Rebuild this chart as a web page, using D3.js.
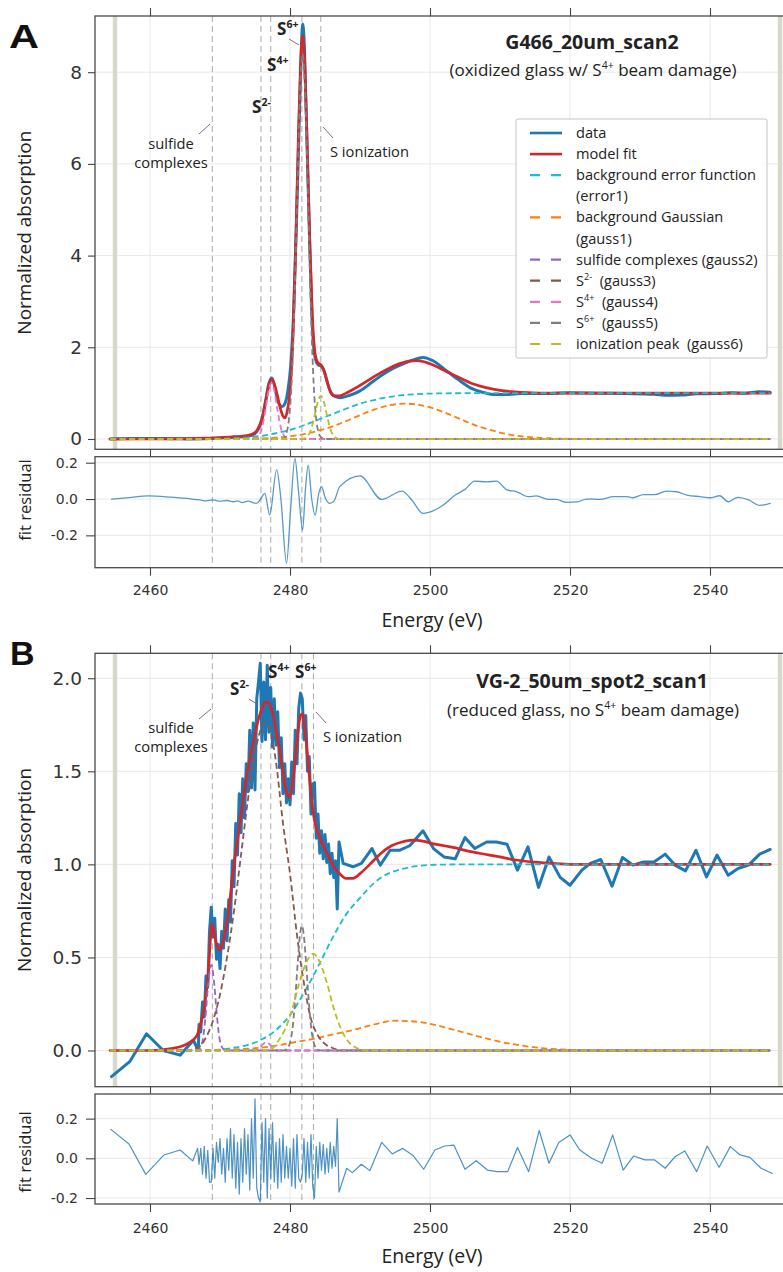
<!DOCTYPE html>
<html><head><meta charset="utf-8">
<script src="https://cdn.jsdelivr.net/npm/d3@7"></script>
<style>body{margin:0;background:#fff}svg{display:block}</style>
</head><body>
<svg id="c" width="783" height="1272"></svg>
<script>
// ---------------- DATA ----------------
const xTicks = [2460, 2480, 2500, 2520, 2540];
const xTickLabels = ["2460", "2480", "2500", "2520", "2540"];
const aMainTicks = [0, 2, 4, 6, 8];
const aMainTickLabels = ["0", "2", "4", "6", "8"];
const bMainTicks = [0, 0.5, 1, 1.5, 2];
const bMainTickLabels = ["0.0", "0.5", "1.0", "1.5", "2.0"];
const resTicks = [-0.2, 0, 0.2];
const resTickLabels = ["-0.2", "0.0", "0.2"];
const bandEnergies = [2455, 2550];
const aMarkers = [2468.9, 2475.85, 2477.25, 2481.7, 2484.4];
const bMarkers = [2468.9, 2475.85, 2477.25, 2481.7, 2483.35];

// Panel A (G466_20um_scan2)
const aData = [[2454.3,0],[2458,0.01],[2462,0.01],[2466,0],[2470,0.02],[2472,0.04],[2474,0.06],[2475,0.12],[2475.5,0.22],[2476,0.42],[2476.5,0.82],[2477,1.22],[2477.4,1.33],[2477.8,1.15],[2478.2,0.86],[2478.6,0.73],[2478.9,0.71],[2479.3,0.78],[2479.7,1.05],[2480.1,1.6],[2480.5,2.7],[2480.9,4.6],[2481.3,6.8],[2481.6,8.4],[2481.8,9.05],[2482,8.75],[2482.3,7.2],[2482.7,4.9],[2483.1,2.8],[2483.5,1.85],[2484,1.62],[2484.5,1.58],[2485,1.42],[2485.5,1.15],[2486,0.98],[2486.6,0.92],[2487.2,0.9],[2488,0.93],[2489,0.98],[2490,1.05],[2492,1.27],[2494,1.48],[2496,1.63],[2497.5,1.72],[2499,1.78],[2500.5,1.7],[2502,1.53],[2504,1.3],[2506,1.1],[2507.5,1.02],[2509,0.97],[2511,0.97],[2513,0.99],[2516,0.99],[2520,1.01],[2524,1.0],[2528,0.99],[2532,0.975],[2534,0.955],[2536,0.96],[2538,0.985],[2541,0.99],[2543,1.01],[2545,1.0],[2547,1.03],[2548.6,1.02]];
const aFit = [[2454.3,0],[2460,0],[2465,0.01],[2468,0.02],[2470,0.03],[2472,0.05],[2473,0.06],[2474,0.08],[2475,0.14],[2475.5,0.25],[2476,0.45],[2476.5,0.8],[2477,1.18],[2477.4,1.3],[2477.8,1.18],[2478.2,0.95],[2478.6,0.68],[2479,0.5],[2479.3,0.46],[2479.6,0.6],[2480,1.05],[2480.4,2.1],[2480.8,4.15],[2481.2,6.65],[2481.5,8.15],[2481.8,8.8],[2482.1,8.2],[2482.4,6.7],[2482.8,4.45],[2483.2,2.66],[2483.6,1.85],[2484,1.66],[2484.4,1.62],[2484.8,1.52],[2485.3,1.25],[2485.8,1.02],[2486.4,0.94],[2487,0.94],[2488,1.0],[2489,1.08],[2490,1.17],[2492,1.36],[2494,1.53],[2496,1.66],[2497,1.7],[2498,1.71],[2499,1.69],[2500,1.64],[2502,1.5],[2504,1.35],[2506,1.21],[2508,1.12],[2510,1.06],[2512,1.03],[2514,1.01],[2516,1.0],[2520,1.0],[2530,1.0],[2540,1.0],[2548.6,1.0]];
const aErf = [[2454.3,0],[2465,0.001],[2470,0.008],[2472,0.018],[2474,0.037],[2476,0.07],[2478,0.125],[2480,0.2],[2482,0.3],[2484,0.42],[2486,0.54],[2488,0.66],[2490,0.77],[2492,0.85],[2494,0.915],[2496,0.955],[2498,0.978],[2500,0.99],[2504,0.998],[2510,1.0],[2548.6,1.0]];
const aGauss1 = [[2454.3,0],[2470,0],[2475,0.01],[2478,0.03],[2480,0.06],[2482,0.107],[2484,0.18],[2486,0.27],[2488,0.39],[2490,0.52],[2492,0.64],[2494,0.73],[2496.5,0.77],[2499,0.73],[2501,0.64],[2503,0.52],[2505,0.39],[2507,0.27],[2509,0.18],[2511,0.107],[2513,0.06],[2515,0.03],[2518,0.01],[2522,0],[2548.6,0]];
const aGauss2 = [[2454.3,0],[2548.6,0]];
const aGauss3 = [[2454.3,0],[2548.6,0]];
const aGauss4 = [[2454.3,0],[2474.5,0],[2475,0.01],[2475.5,0.06],[2476,0.24],[2476.5,0.64],[2477,1.09],[2477.35,1.22],[2477.7,1.09],[2478.2,0.64],[2478.7,0.24],[2479.2,0.06],[2479.7,0.01],[2480.5,0],[2548.6,0]];
const aGauss5 = [[2454.3,0],[2479,0],[2479.4,0.09],[2479.8,0.37],[2480.2,1.14],[2480.6,2.73],[2481,5.1],[2481.4,7.4],[2481.8,8.4],[2482.2,7.4],[2482.6,5.1],[2483,2.73],[2483.4,1.14],[2483.8,0.37],[2484.2,0.09],[2484.6,0.02],[2485,0],[2548.6,0]];
const aGauss6 = [[2454.3,0],[2481.5,0],[2482,0.01],[2482.8,0.127],[2483.2,0.305],[2483.6,0.57],[2484,0.83],[2484.4,0.94],[2484.8,0.83],[2485.2,0.57],[2485.6,0.305],[2486,0.127],[2486.8,0.01],[2487.5,0],[2548.6,0]];
const aResid = [[2454.5,0],[2457,0.008],[2459.8,0.017],[2463,0.01],[2466,0],[2467.1,-0.005],[2468,-0.01],[2469,-0.005],[2470,-0.012],[2471,-0.008],[2471.9,-0.015],[2472.5,-0.01],[2473.2,-0.02],[2474,-0.012],[2475.2,-0.024],[2475.8,0],[2476.4,0.031],[2477.1,-0.088],[2478.1,0.16],[2478.7,0],[2479.5,-0.354],[2480.1,-0.05],[2480.7,0.224],[2481.2,0.05],[2481.8,-0.171],[2482.2,0.05],[2482.6,0.187],[2483.1,0],[2483.6,-0.088],[2484.1,0.03],[2484.5,0.068],[2485.1,0],[2485.7,-0.024],[2486.3,-0.01],[2487.1,0.068],[2490,0.127],[2493.1,-0.002],[2496,0.044],[2497.4,-0.005],[2499,-0.079],[2500.5,-0.064],[2501.9,-0.033],[2503.6,0.022],[2505,0.053],[2506.4,0.099],[2508.1,0.094],[2509.5,0.099],[2511,0.05],[2512.4,0.04],[2514,0.013],[2515.2,0.017],[2516.9,-0.002],[2518,-0.002],[2519.5,-0.018],[2521,-0.016],[2522.4,0],[2524.3,-0.002],[2526.2,0.013],[2528.1,0.013],[2529,0.007],[2530.5,0.024],[2532.1,0.024],[2533.8,0.044],[2535.2,0.04],[2536.7,0.022],[2538.6,0.013],[2540,0.007],[2541.4,0.018],[2542.6,-0.015],[2544,0.009],[2545.5,-0.005],[2547.1,-0.035],[2548.6,-0.024]];

// Panel B (VG-2_50um_spot2_scan1)
const bData = [[2454.5,-0.14],[2457.1,-0.06],[2459.5,0.09],[2461.9,0],[2464.3,-0.025],[2466.2,0.055],[2466.9,0],
[2467,0.14],[2467.25,0.1],[2467.5,0.26],[2467.75,0.18],[2468,0.4],[2468.25,0.34],[2468.5,0.64],[2468.75,0.77],[2469,0.61],[2469.25,0.71],[2469.5,0.49],[2469.75,0.57],[2470,0.44],[2470.25,0.64],[2470.5,0.55],[2470.75,0.76],[2471,0.59],[2471.25,0.81],[2471.5,0.69],[2471.75,1.02],[2472,0.88],[2472.25,1.22],[2472.5,1.05],[2472.75,1.38],[2473,1.17],[2473.25,1.46],[2473.5,1.25],[2473.75,1.54],[2474,1.39],[2474.25,1.72],[2474.5,1.41],[2474.75,1.76],[2475,1.4],[2475.25,1.89],[2475.5,1.98],[2475.75,2.08],[2476,1.66],[2476.25,1.98],[2476.5,1.67],[2476.75,2.07],[2477,1.71],[2477.25,1.95],[2477.5,1.63],[2477.75,1.89],[2478,1.64],[2478.25,1.82],[2478.5,1.52],[2478.75,1.68],[2479,1.38],[2479.25,1.54],[2479.5,1.33],[2479.75,1.46],[2480,1.32],[2480.25,1.55],[2480.5,1.38],[2480.75,1.72],[2481,1.54],[2481.25,1.84],[2481.5,1.92],[2481.75,1.89],[2482,1.67],[2482.25,1.8],[2482.5,1.5],[2482.75,1.58],[2483,1.27],[2483.25,1.43],[2483.5,1.44],[2483.75,1.14],[2484,1.27],[2484.25,1.06],[2484.5,1.18],[2484.75,1.03],[2485,1.16],[2485.25,1.01],[2485.5,1.11],[2485.75,0.95],[2486,1.06],[2486.25,0.93],[2486.5,1.02],[2486.75,0.76],[2487,1.12],
[2487.6,1.005],[2489,0.987],[2490.2,1.005],[2491.7,1.085],[2492.9,0.996],[2494.3,1.076],[2495.7,1.076],[2497.1,1.1],[2499,1.18],[2500.5,1.085],[2502,1.04],[2503.6,1.03],[2505,1.144],[2506.4,1.085],[2508.1,1.12],[2509.5,1.12],[2511,1.108],[2512.5,0.969],[2514,1.094],[2515.5,0.876],[2517,1.04],[2518.6,0.93],[2520,0.888],[2521.7,0.969],[2522.9,1.005],[2524.4,1.026],[2526,0.883],[2527.5,1.037],[2529,0.996],[2530.5,1.013],[2532,1.013],[2533.6,1.055],[2535,0.996],[2536.5,0.965],[2538,1.076],[2539.5,0.933],[2541,1.05],[2542.6,0.942],[2544,0.978],[2545.5,0.996],[2547.1,1.055],[2548.6,1.08]];
const bFit = [[2454.3,0],[2460,0],[2463,0.01],[2464.3,0.02],[2465.5,0.04],[2466.7,0.08],[2467.2,0.14],[2467.6,0.2],[2468,0.3],[2468.3,0.4],[2468.6,0.58],[2468.85,0.68],[2469.2,0.62],[2469.6,0.56],[2470,0.54],[2470.4,0.58],[2470.8,0.65],[2471.2,0.74],[2471.6,0.87],[2472,1.0],[2472.5,1.13],[2473,1.27],[2473.5,1.4],[2474,1.51],[2474.5,1.61],[2475,1.7],[2475.5,1.78],[2476,1.84],[2476.4,1.87],[2476.8,1.87],[2477.2,1.85],[2477.6,1.8],[2478,1.72],[2478.5,1.62],[2479,1.5],[2479.5,1.39],[2479.9,1.36],[2480.3,1.42],[2480.7,1.55],[2481.1,1.7],[2481.5,1.8],[2481.8,1.81],[2482.1,1.74],[2482.5,1.58],[2482.9,1.42],[2483.3,1.28],[2483.8,1.19],[2484.3,1.14],[2485,1.08],[2485.7,1.03],[2486.4,0.98],[2487.1,0.95],[2488,0.925],[2489,0.925],[2490,0.95],[2491.4,1.0],[2493,1.06],[2494.5,1.1],[2496,1.12],[2497.5,1.13],[2499,1.125],[2500.5,1.11],[2502,1.1],[2503.5,1.09],[2505,1.075],[2507,1.06],[2510,1.04],[2512,1.025],[2515,1.012],[2518,1.004],[2520,1.0],[2548.6,1.0]];
const bErf = [[2454.3,0],[2465,0],[2470,0.005],[2472,0.015],[2474,0.03],[2476,0.06],[2478,0.11],[2480,0.19],[2482,0.31],[2484,0.45],[2486,0.6],[2488,0.73],[2490,0.82],[2492,0.9],[2494,0.95],[2496,0.975],[2498,0.99],[2500,0.997],[2505,1.0],[2548.6,1.0]];
const bGauss1 = [[2454.3,0],[2465,0],[2470,0.003],[2474,0.01],[2477,0.02],[2480,0.04],[2483,0.06],[2486,0.085],[2489,0.11],[2492,0.14],[2495,0.16],[2498,0.155],[2501,0.135],[2504,0.105],[2507,0.075],[2510,0.047],[2513,0.027],[2516,0.013],[2520,0.004],[2525,0],[2548.6,0]];
const bGauss2 = [[2454.3,0],[2466.5,0],[2467,0.007],[2467.5,0.05],[2467.9,0.17],[2468.3,0.35],[2468.75,0.46],[2469.2,0.35],[2469.6,0.17],[2470,0.05],[2470.5,0.007],[2471,0],[2548.6,0]];
const bGauss3 = [[2454.3,0],[2465,0],[2467,0.02],[2468,0.07],[2469,0.16],[2470,0.3],[2471,0.5],[2472,0.75],[2473,1.05],[2474,1.35],[2475,1.6],[2476,1.74],[2476.4,1.76],[2477,1.74],[2478,1.55],[2479,1.22],[2480,0.95],[2481,0.62],[2481.5,0.48],[2482,0.36],[2483,0.17],[2484,0.08],[2485,0.035],[2486,0.015],[2487.5,0],[2548.6,0]];
const bGauss4 = [[2454.3,0],[2475,0],[2475.8,0.02],[2476.2,0.036],[2476.6,0.045],[2477,0.036],[2477.4,0.02],[2478.2,0],[2548.6,0]];
const bGauss5 = [[2454.3,0],[2479,0],[2479.5,0.006],[2479.9,0.03],[2480.3,0.1],[2480.7,0.255],[2481.1,0.47],[2481.4,0.61],[2481.7,0.67],[2482,0.61],[2482.3,0.47],[2482.7,0.255],[2483.1,0.1],[2483.5,0.03],[2483.9,0.006],[2484.5,0],[2548.6,0]];
const bGauss6 = [[2454.3,0],[2477,0],[2478.3,0.05],[2479.3,0.115],[2480.3,0.22],[2481.3,0.36],[2482.3,0.47],[2483.3,0.52],[2484.3,0.47],[2485.3,0.36],[2486.3,0.22],[2487.3,0.115],[2488.3,0.05],[2489.3,0.017],[2490.3,0.005],[2491,0],[2548.6,0]];
const bResid = [[2454.4,0.146],[2457,0.072],[2459.4,-0.081],[2462,0.017],[2464.3,0.042],[2466.1,-0.013],[2466.8,0.05],
[2467,-0.03],[2467.25,0.05],[2467.5,-0.08],[2467.75,0.06],[2468,-0.1],[2468.25,0.04],[2468.5,-0.12],[2468.75,-0.12],[2469,0.05],[2469.25,-0.1],[2469.5,0.08],[2469.75,-0.02],[2470,0.1],[2470.25,-0.08],[2470.5,0.05],[2470.75,-0.12],[2471,0.1],[2471.25,-0.06],[2471.5,0.15],[2471.75,-0.1],[2472,0.12],[2472.25,-0.15],[2472.5,0.08],[2472.75,-0.18],[2473,0.1],[2473.25,-0.12],[2473.5,0.15],[2473.75,-0.08],[2474,0.12],[2474.25,-0.16],[2474.5,0.2],[2474.75,-0.1],[2475,0.3],[2475.25,-0.15],[2475.5,-0.2],[2475.75,-0.22],[2476,0.18],[2476.25,-0.12],[2476.5,0.2],[2476.75,-0.2],[2477,0.15],[2477.25,-0.1],[2477.5,0.18],[2477.75,-0.12],[2478,0.08],[2478.25,-0.15],[2478.5,0.1],[2478.75,-0.12],[2479,0.12],[2479.25,-0.1],[2479.5,0.06],[2479.75,-0.1],[2480,0.05],[2480.25,-0.14],[2480.5,0.1],[2480.75,-0.15],[2481,0.12],[2481.25,-0.1],[2481.5,-0.12],[2481.75,-0.08],[2482,0.1],[2482.25,-0.12],[2482.5,0.08],[2482.75,-0.1],[2483,0.12],[2483.25,-0.14],[2483.5,-0.2],[2483.75,0.06],[2484,-0.1],[2484.25,0.08],[2484.5,-0.06],[2484.75,0.07],[2485,-0.08],[2485.25,0.05],[2485.5,-0.07],[2485.75,0.08],[2486,-0.05],[2486.25,0.06],[2486.5,-0.04],[2486.75,0.2],[2487,-0.17],
[2488.1,-0.05],[2488.9,-0.072],[2490.2,-0.03],[2491.4,-0.062],[2493.1,0.08],[2494.6,0.022],[2496.1,0.05],[2497.5,0.017],[2499.1,-0.055],[2500.7,0.042],[2502.1,0.062],[2503.4,0.067],[2505,-0.055],[2506.6,-0.012],[2508.2,-0.059],[2509.6,-0.067],[2511.1,-0.067],[2512.5,0.055],[2514.1,-0.067],[2515.6,0.14],[2517,-0.025],[2518.4,0.08],[2520,0.118],[2521.4,0.042],[2523.1,0],[2524.6,-0.025],[2526.1,0.118],[2527.6,-0.059],[2529.1,0.012],[2530.7,-0.008],[2532.1,-0.008],[2533.6,-0.05],[2535,0.008],[2536.4,0.037],[2538.1,-0.067],[2539.6,0.062],[2541.3,-0.045],[2542.9,0.059],[2544.3,0.017],[2545.7,0.005],[2547.3,-0.05],[2548.9,-0.076]];

const legendKeys = ["data","fit","erf","g1","g2","g3","g4","g5","g6"];
const legendLabels = [
  [[{t:"data"}]],
  [[{t:"model fit"}]],
  [[{t:"background error function"}],[{t:"(error1)"}]],
  [[{t:"background Gaussian"}],[{t:"(gauss1)"}]],
  [[{t:"sulfide complexes (gauss2)"}]],
  [[{t:"S"},{t:"2-",sup:true},{t:"  (gauss3)"}]],
  [[{t:"S"},{t:"4+",sup:true},{t:"  (gauss4)"}]],
  [[{t:"S"},{t:"6+",sup:true},{t:"  (gauss5)"}]],
  [[{t:"ionization peak  (gauss6)"}]]
];

// ---------------- STYLE ----------------
const COLORS = {data:"#1f77b4", fit:"#d62728", erf:"#17becf", g1:"#ff7f0e", g2:"#9467bd", g3:"#8c564b", g4:"#e377c2", g5:"#7f7f7f", g6:"#bcbd22"};
const GRID = "#e8e8e8", FRAME = "#4a4a4a", TXT = "#222";
const SANS = "'Open Sans', sans-serif", TICKF = "'DejaVu Sans', sans-serif";
const X0 = 95, X1 = 786;
const x = d3.scaleLinear().domain([2452.143, 2550.857]).range([X0, X1]);

const svg = d3.select("#c");
const defs = svg.append("defs");
svg.append("rect").attr("width", 783).attr("height", 1272).attr("fill", "#fff");

function setupPanel(id, top, bottom, dom, yTicks) {
  const y = d3.scaleLinear().domain(dom).range([bottom, top]);
  defs.append("clipPath").attr("id", id).append("rect")
    .attr("x", X0).attr("y", top).attr("width", X1 - X0).attr("height", bottom - top);
  const g = svg.append("g");
  const inner = g.append("g").attr("clip-path", `url(#${id})`);
  inner.selectAll(null).data(xTicks).join("line")
    .attr("x1", d => x(d)).attr("x2", d => x(d)).attr("y1", top).attr("y2", bottom)
    .attr("stroke", GRID).attr("stroke-width", 1);
  inner.selectAll(null).data(yTicks).join("line")
    .attr("x1", X0).attr("x2", X1).attr("y1", d => y(d)).attr("y2", d => y(d))
    .attr("stroke", GRID).attr("stroke-width", 1);
  return {y, g, inner, top, bottom};
}

function drawLine(p, data, color, width, dash, curve, opacity) {
  const gen = d3.line().x(d => x(d[0])).y(d => p.y(d[1])).curve(curve || d3.curveMonotoneX);
  p.inner.append("path").datum(data).attr("d", gen)
    .attr("fill", "none").attr("stroke", color).attr("stroke-width", width)
    .attr("stroke-dasharray", dash || null).attr("stroke-linejoin", "round")
    .attr("stroke-linecap", dash ? "butt" : "round")
    .attr("opacity", opacity || 1);
}

function drawBands(p) {
  p.inner.selectAll(null).data(bandEnergies).join("rect")
    .attr("x", d => x(d) - 2.2).attr("width", 4.4).attr("y", p.top).attr("height", p.bottom - p.top)
    .attr("fill", "#d7d8c8");
}
function drawMarkers(p, markers) {
  p.inner.selectAll(null).data(markers).join("line")
    .attr("x1", d => x(d)).attr("x2", d => x(d)).attr("y1", p.top).attr("y2", p.bottom)
    .attr("stroke", "#a9a9a9").attr("stroke-width", 1).attr("stroke-dasharray", "6,4");
}
function styleAxis(sel, size) {
  sel.attr("font-family", TICKF).attr("font-size", size).attr("color", "#333");
  sel.select(".domain").remove();
  sel.selectAll(".tick line").attr("stroke", "#444").attr("stroke-width", 1.1);
  sel.selectAll(".tick text").attr("fill", "#333");
}
function drawFrame(p) {
  p.g.append("rect").attr("x", X0).attr("y", p.top).attr("width", X1 - X0).attr("height", p.bottom - p.top)
    .attr("fill", "none").attr("stroke", FRAME).attr("stroke-width", 1.3);
}
function mainAxes(p, ticks, labels) {
  p.g.append("g").attr("transform", `translate(0,${p.top})`)
    .call(d3.axisTop(x).tickValues(xTicks).tickSize(8).tickFormat(""))
    .call(s => styleAxis(s, 14));
  p.g.append("g").attr("transform", `translate(0,${p.bottom})`)
    .call(d3.axisBottom(x).tickValues(xTicks).tickSize(7).tickFormat(""))
    .call(s => styleAxis(s, 14));
  p.g.append("g").attr("transform", `translate(${X0},0)`)
    .call(d3.axisLeft(p.y).tickValues(ticks).tickFormat((d, i) => labels[i]).tickSize(7).tickPadding(6))
    .call(s => styleAxis(s, 18.5));
}
function resAxes(p, pad) {
  p.g.append("g").attr("transform", `translate(0,${p.bottom})`)
    .call(d3.axisBottom(x).tickValues(xTicks).tickFormat((d, i) => xTickLabels[i]).tickSize(8).tickPadding(pad))
    .call(s => styleAxis(s, 14));
  p.g.append("g").attr("transform", `translate(${X0},0)`)
    .call(d3.axisLeft(p.y).tickValues(resTicks).tickFormat((d, i) => resTickLabels[i]).tickSize(9).tickPadding(8))
    .call(s => styleAxis(s, 14));
}

function richText(parent, px, py, parts, o) {
  const size = o.size;
  const t = parent.append("text").attr("x", px).attr("y", py)
    .attr("font-family", o.family || SANS).attr("font-size", size)
    .attr("font-weight", o.weight || "normal").attr("fill", o.fill || TXT)
    .attr("text-anchor", o.anchor || "start");
  let shifted = false;
  parts.forEach(pt => {
    const s = t.append("tspan").text(pt.t);
    if (pt.sup) {
      s.attr("font-size", size * 0.62).attr("dy", -size * 0.4);
      shifted = true;
    } else if (shifted) {
      s.attr("dy", size * 0.4);
      shifted = false;
    }
  });
  t.attr("xml:space", "preserve").style("white-space", "pre");
  return t;
}
function leader(g, x1, y1, x2, y2) {
  g.append("line").attr("x1", x1).attr("y1", y1).attr("x2", x2).attr("y2", y2)
    .attr("stroke", "#666").attr("stroke-width", 0.9);
}
function vLabel(px, py, text, size) {
  svg.append("text").attr("transform", `translate(${px},${py}) rotate(-90)`)
    .attr("text-anchor", "middle").attr("font-family", SANS).attr("font-size", size)
    .attr("fill", TXT).text(text);
}

function drawSeries(p, set) {
  drawLine(p, set.data, COLORS.data, 3, null, set.dataCurve);
  drawLine(p, set.fit, COLORS.fit, 2.7, null);
  const comps = [["erf", set.erf], ["g1", set.g1], ["g2", set.g2], ["g3", set.g3], ["g4", set.g4], ["g5", set.g5], ["g6", set.g6]];
  comps.forEach(([k, d]) => drawLine(p, d, COLORS[k], 1.8, "6,3.5"));
}

// ---------------- PANEL A ----------------
const pA = setupPanel("clipA", 16, 449.3, [-0.225, 9.226], aMainTicks);
const rA = setupPanel("clipAr", 456.7, 567.7, [-0.378, 0.233], resTicks);
drawBands(pA);
drawMarkers(pA, aMarkers); drawMarkers(rA, aMarkers);
drawSeries(pA, {data: aData, fit: aFit, erf: aErf, g1: aGauss1, g2: aGauss2, g3: aGauss3, g4: aGauss4, g5: aGauss5, g6: aGauss6, dataCurve: d3.curveMonotoneX});
drawLine(rA, aResid, COLORS.data, 1.3, null, d3.curveMonotoneX, 0.75);
drawFrame(pA); drawFrame(rA);
mainAxes(pA, aMainTicks, aMainTickLabels);
resAxes(rA, 9);

// ---------------- PANEL B ----------------
const pB = setupPanel("clipB", 653.3, 1086.7, [-0.1945, 2.134], bMainTicks);
const rB = setupPanel("clipBr", 1094, 1204, [-0.230, 0.324], resTicks);
drawBands(pB);
drawMarkers(pB, bMarkers); drawMarkers(rB, bMarkers);
drawSeries(pB, {data: bData, fit: bFit, erf: bErf, g1: bGauss1, g2: bGauss2, g3: bGauss3, g4: bGauss4, g5: bGauss5, g6: bGauss6, dataCurve: d3.curveLinear});
drawLine(rB, bResid, COLORS.data, 1.2, null, d3.curveLinear, 0.8);
drawFrame(pB); drawFrame(rB);
mainAxes(pB, bMainTicks, bMainTickLabels);
resAxes(rB, 11);

// ---------------- LEGEND (panel A) ----------------
const lg = svg.append("g");
lg.append("rect").attr("x", 516).attr("y", 119).attr("width", 251).attr("height", 239)
  .attr("fill", "#fff").attr("fill-opacity", 0.9).attr("stroke", "#c4c4c4").attr("stroke-width", 1).attr("rx", 2);
let row = 0;
legendKeys.forEach((k, i) => {
  const cy = 133 + row * 21.1;
  const solid = (k === "data" || k === "fit");
  lg.append("line").attr("x1", 530).attr("x2", 562).attr("y1", cy).attr("y2", cy)
    .attr("stroke", COLORS[k]).attr("stroke-width", solid ? 2.6 : 2.2)
    .attr("stroke-dasharray", solid ? null : "10,11");
  legendLabels[i].forEach((ln, j) => {
    richText(lg, 576, cy + 5 + j * 21.1, ln, {size: 14.6});
  });
  row += legendLabels[i].length;
});

// ---------------- TEXT / ANNOTATIONS ----------------
const ann = svg.append("g");
// Panel A
ann.append("text").attr("x", 9).attr("y", 48).attr("font-family", "'Liberation Sans', Arial, sans-serif")
  .attr("font-weight", "bold").attr("font-size", 34).attr("fill", "#111")
  .attr("textLength", 30).attr("lengthAdjust", "spacingAndGlyphs").text("A");
richText(ann, 592, 49, [{t:"G466_20um_scan2"}], {size: 19.5, weight: "bold", anchor: "middle"});
richText(ann, 593, 76, [{t:"(oxidized glass w/ S"},{t:"4+",sup:true},{t:" beam damage)"}], {size: 17, anchor: "middle"});
richText(ann, 171, 149, [{t:"sulfide"}], {size: 14.7, anchor: "middle"});
richText(ann, 171, 168, [{t:"complexes"}], {size: 14.7, anchor: "middle"});
leader(ann, 199, 134, 210, 124);
richText(ann, 330, 157, [{t:"S ionization"}], {size: 14.7});
leader(ann, 323, 127, 333, 138);
richText(ann, 277, 35, [{t:"S"},{t:"6+",sup:true}], {size: 17, weight: "bold"});
leader(ann, 289, 39, 299, 45);
richText(ann, 267, 71, [{t:"S"},{t:"4+",sup:true}], {size: 17, weight: "bold"});
richText(ann, 252, 113, [{t:"S"},{t:"2-",sup:true}], {size: 17, weight: "bold"});
vLabel(31, 232.6, "Normalized absorption", 19);
vLabel(31, 500, "fit residual", 16.5);
richText(ann, 432, 627, [{t:"Energy (eV)"}], {size: 19.5, anchor: "middle"});

// Panel B
ann.append("text").attr("x", 10).attr("y", 665).attr("font-family", "'Liberation Sans', Arial, sans-serif")
  .attr("font-weight", "bold").attr("font-size", 34).attr("fill", "#111").text("B");
richText(ann, 592, 688, [{t:"VG-2_50um_spot2_scan1"}], {size: 19.5, weight: "bold", anchor: "middle"});
richText(ann, 593, 716, [{t:"(reduced glass, no S"},{t:"4+",sup:true},{t:" beam damage)"}], {size: 17, anchor: "middle"});
richText(ann, 230, 695, [{t:"S"},{t:"2-",sup:true}], {size: 17, weight: "bold"});
leader(ann, 249, 699, 257, 704);
richText(ann, 268, 678, [{t:"S"},{t:"4+",sup:true}], {size: 17, weight: "bold"});
richText(ann, 295, 678, [{t:"S"},{t:"6+",sup:true}], {size: 17, weight: "bold"});
richText(ann, 171, 733, [{t:"sulfide"}], {size: 14.7, anchor: "middle"});
richText(ann, 171, 752, [{t:"complexes"}], {size: 14.7, anchor: "middle"});
leader(ann, 199, 719, 211, 709);
richText(ann, 323, 742, [{t:"S ionization"}], {size: 14.7});
leader(ann, 316, 712, 326, 723);
vLabel(31, 870, "Normalized absorption", 19);
vLabel(31, 1152, "fit residual", 16.5);
richText(ann, 432, 1263, [{t:"Energy (eV)"}], {size: 19.5, anchor: "middle"});
</script>
</body></html>
